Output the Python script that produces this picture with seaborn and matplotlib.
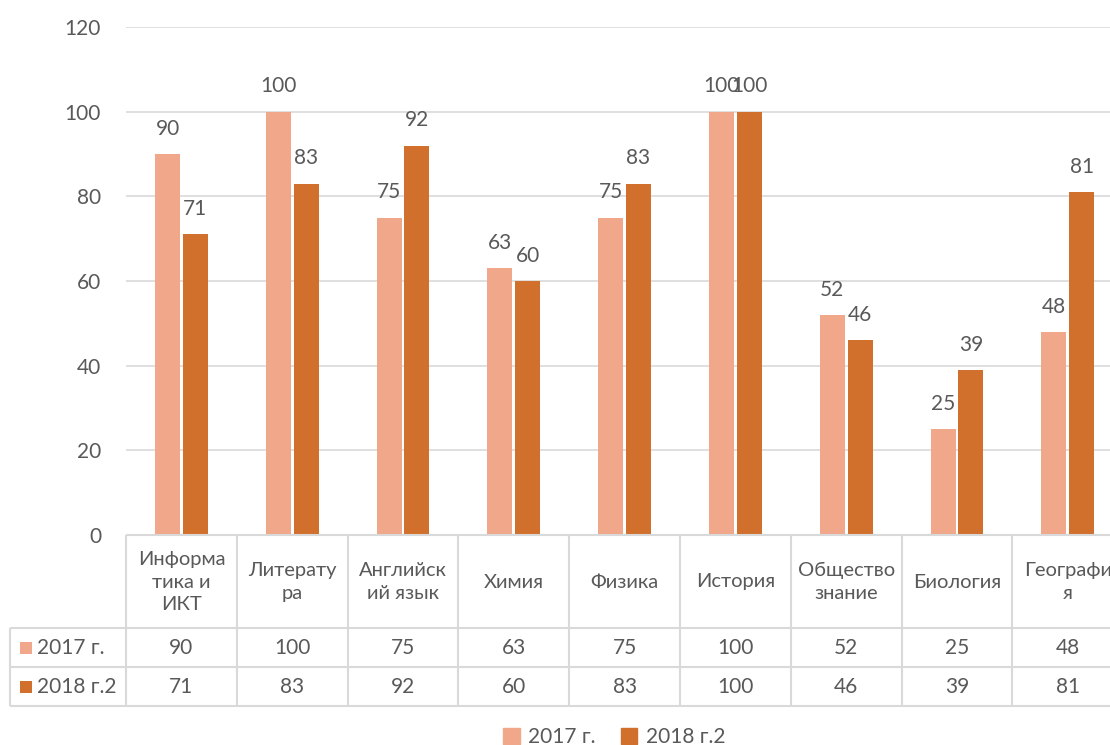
import numpy as np
import pandas as pd
import matplotlib
matplotlib.use("Agg")
import matplotlib.pyplot as plt
import matplotlib.transforms as mtransforms
from matplotlib.lines import Line2D
from matplotlib.patches import Patch, Rectangle
import seaborn as sns

# данные
subjects = ["Информатика и ИКТ", "Литература", "Английский язык", "Химия", "Физика",
            "История", "Обществознание", "Биология", "География"]
header_labels = ["Информа\nтика и\nИКТ", "Литерату\nра", "Английск\nий язык", "Химия",
                 "Физика", "История", "Общество\nзнание", "Биология", "Географи\nя"]
series_names = ["2017 г.", "2018 г.2"]
vals_2017 = [90, 100, 75, 63, 75, 100, 52, 25, 48]
vals_2018 = [71, 83, 92, 60, 83, 100, 46, 39, 81]
y_ticks = [0, 20, 40, 60, 80, 100, 120]

colors = ["#F1A78A", "#D16F2C"]
TXT = "#595959"
GRID = "#D9D9D9"
W, H = 1110, 745

sns.set_theme(style="white")
plt.rcParams["font.family"] = ["Lato", "DejaVu Sans"]

df = pd.DataFrame({
    "subject": subjects * 2,
    "year": [series_names[0]] * len(subjects) + [series_names[1]] * len(subjects),
    "value": vals_2017 + vals_2018,
})


def fy(px):
    return 1 - px / H


fig = plt.figure(figsize=(W / 100, H / 100), dpi=100)
cat_w = 110.8
left = 126
n = len(subjects)
ax = fig.add_axes([left / W, fy(535), n * cat_w / W, (535 - 27) / H])

sns.barplot(data=df, x="subject", y="value", hue="year", palette=colors,
            width=0.5, gap=0.1, saturation=1, legend=False, linewidth=0, ax=ax)

ax.set_xlim(-0.5, n - 0.5)
ax.set_ylim(0, 120)
ax.set_yticks(y_ticks)
ax.set_xticks([])
ax.set_xlabel("")
ax.set_ylabel("")
ax.yaxis.grid(True, color=GRID, lw=1.2)
ax.set_axisbelow(True)
for s in ax.spines.values():
    s.set_visible(False)
ax.tick_params(axis="y", length=0, pad=18, labelsize=15, labelcolor=TXT)

for cont in ax.containers:
    ax.bar_label(cont, padding=11, fontsize=15, color=TXT)

# таблица данных
trans = mtransforms.blended_transform_factory(ax.transData, fig.transFigure)
lc = dict(color=GRID, lw=1.5, solid_capstyle="butt")
for i in range(n + 1):
    fig.add_artist(Line2D([i - 0.5, i - 0.5], [fy(535), fy(706)], transform=trans, **lc))
fig.add_artist(Line2D([left / W, 1.2], [fy(535), fy(535)], transform=fig.transFigure, **lc))
for yy in [628, 667, 706]:
    fig.add_artist(Line2D([10 / W, 1.2], [fy(yy), fy(yy)], transform=fig.transFigure, **lc))
fig.add_artist(Line2D([10 / W, 10 / W], [fy(628), fy(706)], transform=fig.transFigure, **lc))

for i, lab in enumerate(header_labels):
    fig.text(i, fy(582), lab, transform=trans, ha="center", va="center",
             fontsize=14.5, color=TXT, linespacing=1.4)
for row_y, vals in zip([648, 687], [vals_2017, vals_2018]):
    for i, v in enumerate(vals):
        fig.text(i, fy(row_y), str(v), transform=trans, ha="center", va="center",
                 fontsize=15, color=TXT)

for row_y, name, c in zip([648, 687], series_names, colors):
    fig.add_artist(Rectangle((20 / W, fy(row_y + 6)), 12 / W, 12 / H,
                             transform=fig.transFigure, color=c, lw=0))
    fig.text(37 / W, fy(row_y), name, ha="left", va="center", fontsize=15, color=TXT)

# легенда
handles = [Patch(color=c, label=s) for c, s in zip(colors, series_names)]
fig.legend(handles=handles, loc="center", bbox_to_anchor=(614 / W, fy(737)), ncol=2,
           frameon=False, fontsize=15, labelcolor=TXT, handlelength=0.8,
           handleheight=0.8, handletextpad=0.4, columnspacing=1.2)

fig.savefig("out.png", dpi=100)
